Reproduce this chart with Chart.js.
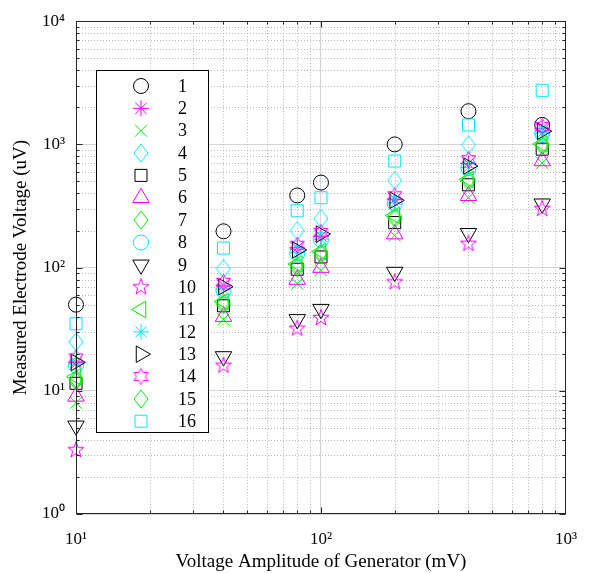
<!DOCTYPE html>
<html><head><meta charset="utf-8">
<script src="https://cdn.jsdelivr.net/npm/chart.js@4/dist/chart.umd.min.js"></script>
<style>html,body{margin:0;padding:0;background:#fff;}#wrap{width:592px;height:573px;}</style>
</head><body><div id="wrap"><canvas id="c" width="592" height="573"></canvas></div>
<script>
// ---- data ----
const generatorMv = [10, 40, 80, 100, 200, 400, 800];
const seriesNames = ['1','2','3','4','5','6','7','8','9','10','11','12','13','14','15','16'];
const s1  = [50, 197, 385, 490, 1000, 1860, 1440];
const s2  = [17, 72, 145, 180, 360, 700, 1350];
const s3  = [8, 38, 74, 95, 182, 369, 706];
const s4  = [25, 98, 200, 250, 511, 993, 1200];
const s5  = [11.5, 49, 97, 122, 232, 470, 915];
const s6  = [9, 40, 80, 100, 187, 383, 733];
const s7  = [12.5, 52, 105, 133, 262, 519, 1000];
const s8  = [16, 65, 130, 168, 330, 640, 1220];
const s9  = [5.2, 19, 38, 46, 92, 190, 330];
const s10 = [3.3, 16, 32, 39, 76, 156, 300];
const s11 = [13, 53, 107, 135, 265, 520, 1010];
const s12 = [16.5, 67, 133, 170, 335, 650, 1240];
const s13 = [17, 70, 139, 187, 352, 668, 1280];
const s14 = [18.5, 76, 152, 193, 383, 752, 1400];
const s15 = [12, 50, 100, 128, 250, 500, 980];
const s16 = [35, 144, 289, 369, 733, 1437, 2750];
const xTickValues = [10, 100, 1000];
const xTickLabels = ['10\u00B9', '10\u00B2', '10\u00B3'];
const yTickValues = [1, 10, 100, 1000, 10000];
const yTickLabels = ['10\u2070', '10\u00B9', '10\u00B2', '10\u00B3', '10\u2074'];
const xTitle = 'Voltage Amplitude of Generator (mV)';
const yTitle = 'Measured Electrode Voltage (uV)';

// ---- marker images ----
function mk(w, h, color, path) {
  const c = document.createElement('canvas');
  c.width = w; c.height = h;
  const g = c.getContext('2d');
  g.strokeStyle = color; g.lineWidth = 1;
  g.beginPath(); path(g, w, h); g.closePath(); g.stroke();
  return c;
}
function diamond(color) {
  return mk(16, 20, color, (g, w, h) => {
    g.moveTo(w/2, 1); g.lineTo(w-1, h/2); g.lineTo(w/2, h-1); g.lineTo(1, h/2);
  });
}
function starShape(color, n, R, r) {
  const s = Math.ceil(2*R + 3);
  return mk(s, s, color, (g, w, h) => {
    const cx = w/2, cy = h/2;
    for (let i = 0; i < 2*n; i++) {
      const rad = (i % 2 === 0) ? R : r;
      const a = -Math.PI/2 + i*Math.PI/n;
      const px = cx + rad*Math.cos(a), py = cy + rad*Math.sin(a);
      if (i === 0) g.moveTo(px, py); else g.lineTo(px, py);
    }
  });
}
const K = '#000000', M = '#ff00ff', G = '#00ee00', C = '#00e8ff';
const styles = [
  {c:K, p:'circle', r:7.5},
  {c:M, p:'star', r:8},
  {c:G, p:'crossRot', r:8.5},
  {c:C, p:diamond(C)},
  {c:K, p:'rect', r:8.5},
  {c:M, p:'triangle', r:9.5},
  {c:G, p:diamond(G)},
  {c:C, p:'circle', r:7.5},
  {c:K, p:'triangle', r:9.5, rot:180},
  {c:M, p:starShape(M, 5, 8.5, 3.4)},
  {c:G, p:'triangle', r:9.5, rot:270},
  {c:C, p:'star', r:8},
  {c:K, p:'triangle', r:9.5, rot:90},
  {c:M, p:starShape(M, 6, 8, 4.6)},
  {c:G, p:diamond(G)},
  {c:C, p:'rect', r:8.5}
];
const allSeries = [s1,s2,s3,s4,s5,s6,s7,s8,s9,s10,s11,s12,s13,s14,s15,s16];

const datasets = allSeries.map((vals, i) => ({
  label: seriesNames[i],
  data: generatorMv.map((x, j) => ({x: x, y: vals[j]})),
  showLine: false,
  borderColor: styles[i].c,
  backgroundColor: 'rgba(0,0,0,0)',
  pointStyle: styles[i].p,
  pointRadius: styles[i].r || 8,
  pointHoverRadius: styles[i].r || 8,
  pointRotation: styles[i].rot || 0,
  pointBorderWidth: 1,
  borderWidth: 1,
  clip: false,
  order: 16 - i
}));

const isDecade = v => Math.abs(Math.log10(v) - Math.round(Math.log10(v))) < 1e-9;

const decor = {
  id: 'decor',
  beforeDatasetsDraw(chart) {
    const {ctx, chartArea: a, scales: {x, y}} = chart;
    ctx.save();
    ctx.lineWidth = 1;
    ctx.strokeStyle = '#b8b8b8';
    ctx.setLineDash([1, 2]);
    for (let d = 10; d < 1000; d *= 10) for (let k = 2; k <= 9; k++) {
      const px = Math.round(x.getPixelForValue(k*d)) + 0.5;
      ctx.beginPath(); ctx.moveTo(px, a.top); ctx.lineTo(px, a.bottom); ctx.stroke();
    }
    for (let d = 1; d < 10000; d *= 10) for (let k = 2; k <= 9; k++) {
      const py = Math.round(y.getPixelForValue(k*d)) + 0.5;
      ctx.beginPath(); ctx.moveTo(a.left, py); ctx.lineTo(a.right, py); ctx.stroke();
    }
    ctx.restore();
  },
  afterDraw(chart) {
    const {ctx, chartArea: a, scales: {x, y}} = chart;
    ctx.save();
    ctx.strokeStyle = '#262626'; ctx.lineWidth = 1; ctx.setLineDash([]);
    const L = Math.round(a.left) + 0.5, R = Math.round(a.right) - 0.5;
    const T = Math.round(a.top) + 0.5, B = Math.round(a.bottom) - 0.5;
    ctx.strokeRect(L, T, R - L, B - T);
    // tick marks
    const xt = [], yt = [];
    for (let d = 10; d < 1000; d *= 10) for (let k = 1; k <= 9; k++) xt.push(k*d);
    for (let d = 1; d < 10000; d *= 10) for (let k = 1; k <= 9; k++) yt.push(k*d);
    ctx.beginPath();
    xt.forEach(v => {
      const len = isDecade(v) ? 6 : 3;
      const px = Math.round(x.getPixelForValue(v)) + 0.5;
      ctx.moveTo(px, B); ctx.lineTo(px, B - len);
      ctx.moveTo(px, T); ctx.lineTo(px, T + len);
    });
    yt.forEach(v => {
      const len = isDecade(v) ? 6 : 3;
      const py = Math.round(y.getPixelForValue(v)) + 0.5;
      ctx.moveTo(L, py); ctx.lineTo(L + len, py);
      ctx.moveTo(R, py); ctx.lineTo(R - len, py);
    });
    ctx.stroke();
    // legend
    const bx = 96.5, by = 70.5, bw = 112, bh = 362;
    ctx.fillStyle = '#ffffff';
    ctx.fillRect(bx, by, bw, bh);
    ctx.strokeStyle = '#000000';
    ctx.strokeRect(bx, by, bw, bh);
    ctx.font = '18px "Liberation Serif", "Times New Roman", serif';
    ctx.textAlign = 'left'; ctx.textBaseline = 'middle';
    chart.data.datasets.forEach((ds, i) => {
      const cy = 86 + i * 22.35;
      ctx.save();
      ctx.strokeStyle = ds.borderColor;
      ctx.fillStyle = 'rgba(0,0,0,0)';
      ctx.lineWidth = 1;
      Chart.helpers.drawPoint(ctx, {pointStyle: ds.pointStyle, rotation: ds.pointRotation, radius: ds.pointRadius, borderWidth: 1}, 141, cy);
      ctx.restore();
      ctx.fillStyle = '#000';
      ctx.fillText(ds.label, 178, cy + 1);
    });
    ctx.restore();
  }
};

const serif = '"Liberation Serif", "Times New Roman", serif';
new Chart(document.getElementById('c'), {
  type: 'scatter',
  data: {datasets},
  plugins: [decor],
  options: {
    responsive: false,
    devicePixelRatio: 1,
    animation: false,
    layout: {padding: {top: 17, right: 21, left: 0, bottom: 0}},
    plugins: {legend: {display: false}, tooltip: {enabled: false}},
    scales: {
      x: {
        type: 'logarithmic', min: 10, max: 1000,
        afterFit(s) { s.height = 59; },
        grid: {drawTicks: false, color: c => (c.tick && isDecade(c.tick.value)) ? '#d4d4d4' : 'rgba(0,0,0,0)'},
        border: {display: false},
        ticks: {
          autoSkip: false, maxRotation: 0, padding: 15, color: '#000',
          font: {family: serif, size: 17},
          callback: v => { const i = xTickValues.findIndex(t => Math.abs(t - v) < 1e-6); return i >= 0 ? xTickLabels[i] : ''; }
        },
        title: {display: true, text: xTitle, color: '#000', font: {family: serif, size: 19}, padding: {top: 0, bottom: 0}}
      },
      y: {
        type: 'logarithmic', min: 1, max: 10000,
        afterFit(s) { s.width = 76; },
        grid: {drawTicks: false, color: c => (c.tick && isDecade(c.tick.value)) ? '#d4d4d4' : 'rgba(0,0,0,0)'},
        border: {display: false},
        ticks: {
          autoSkip: false, padding: 11, color: '#000',
          font: {family: serif, size: 17},
          callback: v => { const i = yTickValues.findIndex(t => Math.abs(t - v) < 1e-6); return i >= 0 ? yTickLabels[i] : ''; }
        },
        title: {display: true, text: yTitle, color: '#000', font: {family: serif, size: 19}, padding: {top: 10, bottom: 0}}
      }
    }
  }
});
</script></body></html>
